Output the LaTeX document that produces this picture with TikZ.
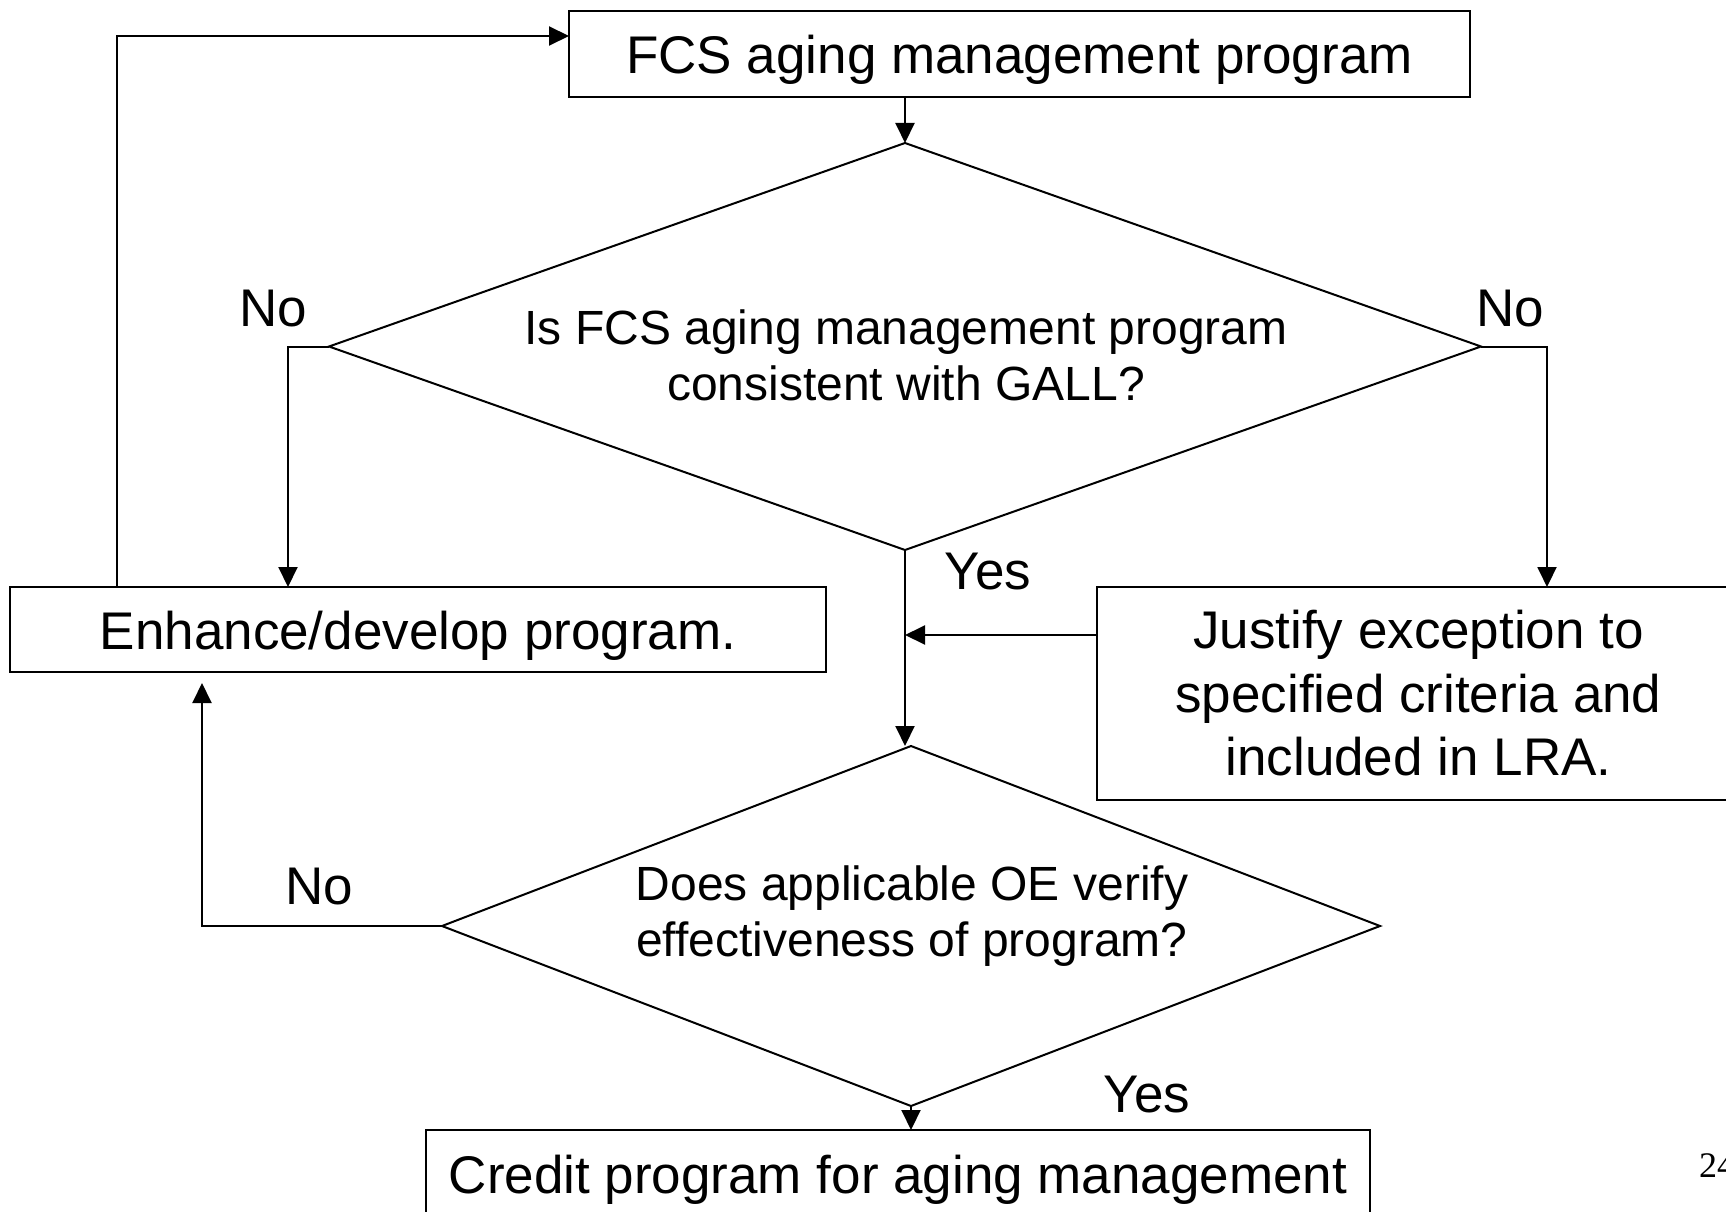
\documentclass[tikz,border=0pt]{standalone}
\usepackage{fontspec}
\setmainfont{Liberation Sans}
\newfontfamily\pagefont{Liberation Serif}
\usetikzlibrary{arrows.meta,shapes.geometric}
\begin{document}
\begin{tikzpicture}[x=1pt,y=-1pt, line width=2pt,
  boxnode/.style={draw, line width=2pt, rectangle, inner sep=0pt, outer sep=0pt, align=center,
     font=\fontsize{53}{63.5}\selectfont},
  onebox/.style={boxnode, text height=51pt, text depth=11pt},
  dnode/.style={draw, line width=2pt, diamond, inner sep=0pt, outer sep=0pt},
  dtext/.style={align=center, inner sep=0pt, font=\fontsize{48}{56}\selectfont},
  lbl/.style={inner sep=0pt, font=\fontsize{53}{63.5}\selectfont},
  arr/.style={-{Triangle[length=20pt,width=19pt]}, line width=2pt}
]
\useasboundingbox (0,0) rectangle (1726,1212);
\begin{scope}
\clip (0,0) rectangle (1726,1212);
\node[onebox, minimum width=901pt, minimum height=86pt] (top) at (1019.5,54) {FCS aging management program};
\node[dnode, minimum width=1152pt, minimum height=407pt] (d1) at (905,346.5) {};
\node[dtext] (d1t) at (906,355) {Is FCS aging management program\\consistent with GALL?};
\node[onebox, minimum width=816pt, minimum height=85pt] (enh) at (418,629.5) {Enhance/develop program.};
\node[boxnode, minimum width=643pt, minimum height=213pt] (just) at (1418.5,693.5) {Justify exception to\\specified criteria and\\included in LRA.};
\node[dnode, minimum width=938pt, minimum height=360pt] (d2) at (911,926) {};
\node[dtext] (d2t) at (912,916) {Does applicable OE verify\\effectiveness of program?};
\node[onebox, text height=46pt, minimum width=944pt, minimum height=92pt] (credit) at (898,1176) {Credit program for aging management};

\node[lbl] (no1) at (273,309) {No};
\node[lbl] (no2) at (1510,309) {No};
\node[lbl] (yes1) at (988,572) {Yes};
\node[lbl] (no3) at (319,887) {No};
\node[lbl] (yes2) at (1147,1095) {Yes};
\node[anchor=base west, inner sep=0pt, font=\pagefont\fontsize{36}{40}\selectfont] (pg) at (1698,1177) {24};

\draw[arr] ([xshift=107pt]enh.north west) |- ([yshift=18pt]top.west);
\draw[arr] (d1.north |- top.south) -- (d1.north);
\draw[arr] (d1.west) -| ([xshift=278pt]enh.north west);
\draw[arr] (d1.east) -| ([xshift=450pt]just.north west);
\draw[arr] (d1.south) -- (d1.south |- d2.north);
\draw[arr] ([yshift=58.5pt]just.west) coordinate (jw) -- (jw -| d1.south);
\draw[arr] (d2.west) -| ([xshift=192pt,yshift=-11pt]enh.south west);
\draw[arr] (d2.south) -- (d2.south |- credit.north);
\end{scope}
\end{tikzpicture}
\end{document}
